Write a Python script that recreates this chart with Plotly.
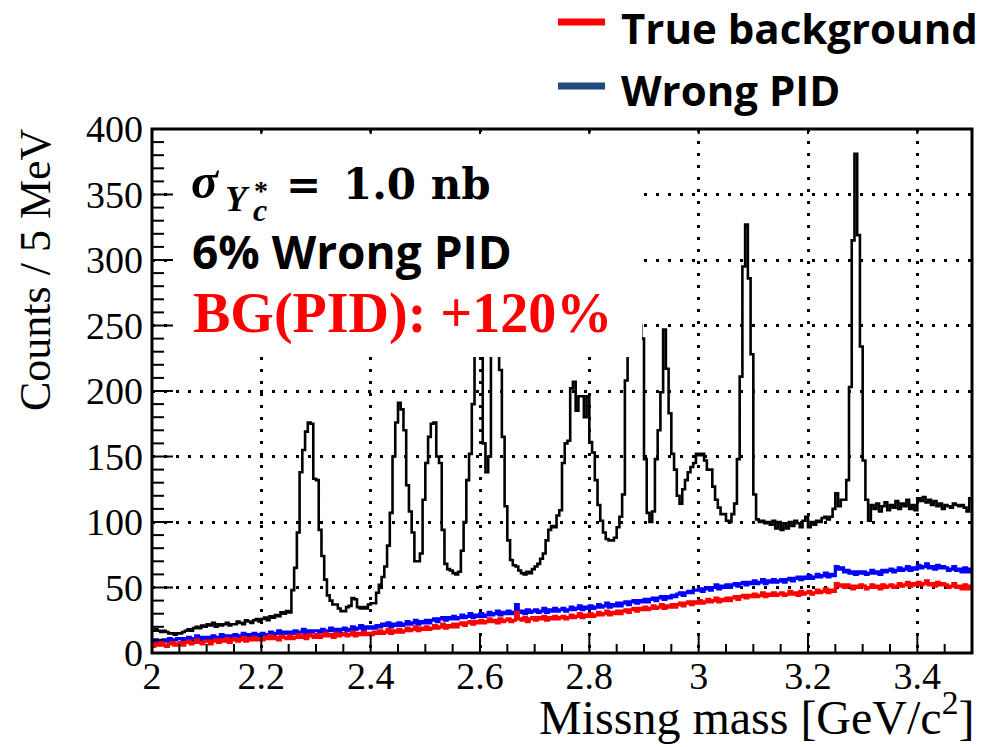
import numpy as np
import plotly.graph_objects as go

# ---------------- data (counts per 5 MeV bin, 2.000 - 3.500 GeV/c^2) ----------------
BIN_LO = 2.0
BIN_W = 0.005

total_counts = [
    17, 18, 17, 16, 17, 16, 15, 15, 14, 15,
    15, 16, 17, 18, 17, 19, 20, 19, 21, 20,
    22, 21, 23, 20, 22, 21, 22, 23, 21, 22,
    22, 24, 23, 22, 25, 24, 23, 25, 26, 24,
    26, 27, 25, 28, 27, 29, 28, 31, 30, 32,
    31, 48, 65, 92, 138, 155, 169, 176, 175, 133,
    132, 94, 74, 56, 44, 40, 37, 37, 34, 32,
    32, 35, 36, 42, 41, 35, 34, 35, 34, 37,
    38, 38, 46, 52, 58, 66, 82, 107, 150, 176,
    191, 186, 170, 128, 108, 92, 70, 70, 76, 117,
    145, 165, 175, 176, 150, 145, 94, 68, 64, 63,
    61, 60, 62, 78, 100, 132, 152, 190, 260, 300,
    240, 160, 138, 150, 260, 280, 270, 216, 165, 112,
    86, 71, 67, 66, 63, 61, 60, 62, 61, 64,
    66, 68, 72, 76, 86, 94, 97, 96, 105, 109,
    145, 160, 162, 202, 207, 185, 196, 196, 180, 196,
    161, 153, 132, 113, 101, 92, 87, 86, 86, 88,
    96, 104, 121, 208, 250, 270, 265, 270, 250, 240,
    148, 107, 100, 108, 148, 170, 199, 247, 217, 183,
    152, 140, 120, 114, 125, 132, 138, 142, 145, 152,
    151, 152, 147, 140, 140, 127, 117, 111, 106, 106,
    101, 100, 106, 114, 148, 211, 295, 327, 286, 228,
    121, 102, 100, 101, 99, 100, 98, 101, 95, 100,
    94, 99, 95, 100, 97, 101, 99, 96, 101, 104,
    96, 100, 98, 101, 100, 103, 104, 102, 104, 110,
    122, 112, 117, 117, 132, 203, 315, 381, 319, 234,
    147, 117, 101, 113, 110, 114, 108, 112, 115, 109,
    113, 111, 116, 110, 114, 112, 117, 110, 113, 109,
    118, 116, 119, 115, 117, 113, 116, 112, 114, 110,
    113, 112, 111, 114, 113, 112, 113, 111, 108, 118,
]

true_bg_counts = [
    5, 7, 6, 8, 6, 5, 7, 8, 6, 7,
    8, 6, 8, 9, 7, 8, 10, 8, 7, 9,
    9, 7, 9, 10, 8, 10, 9, 11, 8, 10,
    11, 9, 10, 12, 9, 11, 10, 12, 10, 11,
    10, 12, 11, 13, 11, 12, 10, 13, 12, 11,
    13, 11, 12, 14, 12, 13, 11, 14, 13, 12,
    14, 12, 13, 15, 13, 14, 12, 15, 13, 14,
    15, 13, 14, 16, 13, 15, 14, 16, 14, 15,
    14, 16, 15, 17, 15, 16, 18, 15, 17, 16,
    18, 16, 17, 19, 17, 18, 20, 17, 19, 18,
    20, 18, 19, 21, 19, 20, 22, 19, 21, 20,
    22, 20, 22, 23, 21, 23, 24, 22, 24, 23,
    25, 23, 24, 26, 24, 25, 23, 26, 24, 25,
    26, 24, 25, 31, 26, 25, 27, 24, 26, 27,
    25, 27, 26, 28, 25, 27, 26, 28, 26, 27,
    28, 26, 27, 29, 27, 28, 30, 27, 29, 28,
    30, 28, 29, 31, 29, 30, 32, 29, 31, 30,
    32, 30, 32, 33, 31, 33, 34, 32, 34, 33,
    35, 33, 34, 36, 34, 35, 37, 34, 36, 35,
    37, 35, 37, 38, 36, 38, 39, 37, 39, 38,
    40, 38, 39, 41, 39, 40, 42, 39, 41, 40,
    42, 40, 42, 43, 41, 43, 44, 42, 44, 43,
    45, 43, 44, 46, 43, 45, 44, 46, 44, 45,
    46, 44, 45, 47, 45, 46, 44, 47, 45, 46,
    47, 45, 46, 48, 46, 47, 49, 46, 48, 47,
    53, 51, 52, 50, 52, 51, 49, 51, 50, 52,
    51, 49, 50, 52, 50, 51, 49, 52, 50, 51,
    52, 50, 51, 53, 51, 52, 54, 51, 53, 52,
    54, 52, 53, 55, 52, 53, 51, 54, 52, 53,
    52, 50, 51, 53, 50, 51, 49, 52, 49, 51,
]

wrong_pid_counts = [
    8, 10, 9, 7, 10, 9, 11, 9, 10, 11,
    11, 9, 11, 12, 10, 11, 13, 10, 12, 11,
    12, 11, 13, 11, 12, 14, 12, 13, 11, 13,
    14, 12, 13, 15, 13, 14, 12, 15, 13, 14,
    15, 13, 14, 16, 14, 15, 17, 14, 16, 15,
    16, 15, 17, 15, 16, 18, 15, 17, 16, 17,
    17, 16, 18, 16, 17, 19, 17, 18, 16, 18,
    19, 17, 18, 20, 18, 19, 21, 18, 20, 19,
    20, 19, 21, 20, 22, 21, 23, 20, 22, 21,
    23, 21, 22, 24, 22, 23, 25, 22, 24, 23,
    25, 23, 25, 26, 24, 26, 27, 25, 27, 26,
    28, 26, 27, 29, 27, 28, 30, 27, 29, 28,
    30, 28, 29, 31, 29, 30, 32, 29, 31, 30,
    32, 30, 31, 37, 31, 32, 30, 33, 31, 32,
    33, 31, 32, 34, 31, 33, 32, 34, 32, 33,
    34, 32, 33, 35, 33, 34, 36, 33, 35, 34,
    36, 34, 35, 37, 35, 36, 38, 35, 37, 36,
    38, 36, 38, 39, 37, 39, 40, 38, 40, 39,
    41, 39, 41, 42, 40, 42, 43, 41, 43, 42,
    44, 43, 45, 46, 44, 46, 47, 46, 48, 48,
    49, 47, 49, 50, 48, 50, 52, 49, 51, 50,
    52, 50, 52, 53, 51, 53, 54, 52, 54, 53,
    55, 53, 54, 56, 53, 55, 54, 56, 54, 55,
    56, 54, 56, 57, 55, 57, 58, 56, 58, 57,
    59, 57, 58, 60, 58, 59, 61, 58, 60, 59,
    66, 64, 65, 62, 63, 61, 62, 60, 62, 61,
    62, 60, 61, 63, 61, 62, 60, 63, 62, 63,
    64, 62, 63, 65, 63, 64, 66, 63, 65, 64,
    67, 65, 66, 68, 65, 66, 64, 67, 65, 66,
    65, 63, 64, 66, 63, 64, 62, 65, 62, 64,
]

X_RANGE = [2.0, 3.5]
X_MAJOR = [2.0, 2.2, 2.4, 2.6, 2.8, 3.0, 3.2, 3.4]
X_MINOR_STEP = 0.05
Y_RANGE = [0, 400]
Y_MAJOR = [0, 50, 100, 150, 200, 250, 300, 350, 400]
Y_MINOR_STEP = 10

# ---------------- geometry helpers (page pixels -> paper coords) ----------------
W, H = 996, 747
L, R, T, B = 152, 972, 129, 653
PW, PH = R - L, B - T


def fx(px):
    return (px - L) / PW


def fy(py):
    return (B - py) / PH


edges = BIN_LO + BIN_W * np.arange(len(total_counts) + 1)


def step(counts):
    return edges, list(counts) + [counts[-1]]


fig = go.Figure()
for counts, color, width, name in [
    (wrong_pid_counts, "#0000ff", 3.2, "Wrong PID"),
    (true_bg_counts, "#ff0000", 3.2, "True background"),
    (total_counts, "#000000", 2.6, "Total"),
]:
    xs, ys = step(counts)
    fig.add_trace(go.Scatter(x=xs, y=ys, mode="lines", line=dict(color=color, width=width, shape="hv"),
                             name=name, showlegend=False, hoverinfo="skip"))

tick_font = dict(family="Liberation Serif", size=38, color="black")

fig.update_layout(
    width=W, height=H, autosize=False,
    margin=dict(l=L, r=W - R, t=T, b=H - B),
    paper_bgcolor="white", plot_bgcolor="white",
    showlegend=False,
)
fig.update_xaxes(range=X_RANGE, tickmode="array", tickvals=X_MAJOR, ticks="",
                 showline=False, zeroline=False, tickfont=tick_font,
                 showgrid=True, gridcolor="black", gridwidth=2.5, griddash="3px,9px",
                 ticklabelstandoff=-3)
fig.update_yaxes(range=Y_RANGE, tickmode="array", tickvals=Y_MAJOR, ticks="",
                 showline=False, zeroline=False, tickfont=tick_font,
                 showgrid=True, gridcolor="black", gridwidth=2.5, griddash="3px,9px",
                 ticklabelstandoff=8)

# white text box that hides part of the plot (as in the original slide)
fig.add_shape(type="rect", xref="paper", yref="paper", x0=fx(175), x1=fx(642), y0=fy(357), y1=fy(134),
              fillcolor="white", line=dict(width=0), layer="above")

# ROOT-style inside ticks and frame
tick_line = dict(color="black", width=2)
n_xminor = int(round((X_RANGE[1] - X_RANGE[0]) / X_MINOR_STEP))
for i in range(n_xminor + 1):
    v = X_RANGE[0] + i * X_MINOR_STEP
    major = any(abs(v - m) < 1e-9 for m in X_MAJOR)
    ln = 18 if major else 9
    fig.add_shape(type="line", xref="x", yref="paper", x0=v, x1=v, y0=0, y1=ln / PH,
                  line=tick_line, layer="above")
    if major:
        fig.add_shape(type="line", xref="x", yref="paper", x0=v, x1=v, y0=1, y1=1 - 5 / PH,
                      line=tick_line, layer="above")
n_yminor = int(round((Y_RANGE[1] - Y_RANGE[0]) / Y_MINOR_STEP))
for i in range(n_yminor + 1):
    v = Y_RANGE[0] + i * Y_MINOR_STEP
    ln = 21 if v in Y_MAJOR else 12
    fig.add_shape(type="line", xref="paper", yref="y", x0=0, x1=ln / PW, y0=v, y1=v,
                  line=tick_line, layer="above")
fig.add_shape(type="rect", xref="paper", yref="paper", x0=0, x1=1, y0=0, y1=1,
              line=dict(color="black", width=3), fillcolor="rgba(0,0,0,0)", layer="above")

# legend samples
fig.add_shape(type="line", xref="paper", yref="paper", x0=fx(558), x1=fx(605), y0=fy(22), y1=fy(22),
              line=dict(color="#ff0000", width=7))
fig.add_shape(type="line", xref="paper", yref="paper", x0=fx(558), x1=fx(605), y0=fy(86), y1=fy(86),
              line=dict(color="#234a80", width=7))


def ann(text, px, py, size, family, color="black", xanchor="left", angle=0):
    fig.add_annotation(text=text, xref="paper", yref="paper", x=fx(px), y=fy(py), showarrow=False,
                       xanchor=xanchor, yanchor="middle", textangle=angle,
                       font=dict(family=family, size=size, color=color))


sans = "Open Sans"
ann("<b>True background</b>", 619, 27, 42, sans)
ann("<b>Wrong PID</b>", 619, 90, 42, sans)

serif = "Liberation Serif"
ann("<b><i>σ</i></b>", 189, 181, 50, serif)
ann("<b><i>Y</i></b>", 223, 199, 36, serif)
ann("<b>*</b>", 252, 190, 28, serif)
ann("<b><i>c</i></b>", 251, 210, 32, serif)
ann("<b>=</b>", 303, 184, 42, "DejaVu Serif", xanchor="center")
ann("<b>1.0 nb</b>", 341, 184, 42, "DejaVu Serif")
ann("<b>6% Wrong PID</b>", 190, 251, 46, sans)
ann("<b>BG(PID): +120%</b>", 191, 313, 56, serif, color="#ff0000")

ann("Counts / 5 MeV", 35, 270, 44, serif, angle=-90, xanchor="center")
ann("Missng mass [GeV/c<sup>2</sup>]", 976, 714, 48, serif, xanchor="right")

fig.write_html("out.html")
